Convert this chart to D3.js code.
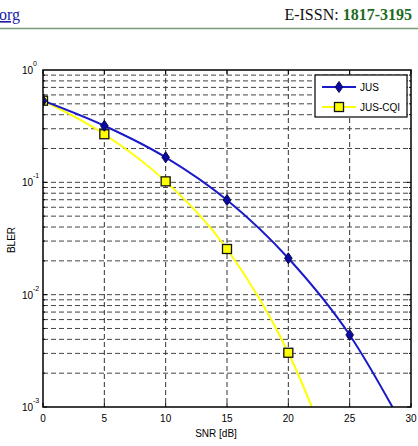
<html>
<head>
<script src="https://d3js.org/d3.v7.min.js"></script>
<style>
  body { margin: 0; background: #fff; }
  text { font-family: "Liberation Sans", Arial, sans-serif; }
</style>
</head>
<body>
<script>
// data
var snr = [0, 5, 10, 15, 20, 25, 30];
var jus = [0.533, 0.319, 0.167, 0.0696, 0.0211, 0.00438, 0.0005];
var snrCqi = [0, 5, 10, 15, 20, 25];
var jusCqi = [0.533, 0.268, 0.102, 0.0255, 0.00304, 0.00013];
var xTicks = [0, 5, 10, 15, 20, 25, 30];
var yDecades = [-3, -2, -1, 0];

var W = 418, H = 446;
var margin = {top: 70, left: 43},
    width = 368, height = 337;

var svg = d3.select("body").append("svg")
    .attr("width", W).attr("height", H);

// page header (journal strip)
svg.append("text").attr("x", -1).attr("y", 20)
    .style("font-family", "'Liberation Serif', serif").style("font-size", "16px")
    .style("fill", "#1a1aa6").style("text-decoration", "underline")
    .text("org");
var hdr = svg.append("text").attr("x", 412).attr("y", 20).attr("text-anchor", "end")
    .style("font-family", "'Liberation Serif', serif").style("font-size", "16px");
hdr.append("tspan").style("fill", "#111").text("E-ISSN: ");
hdr.append("tspan").style("fill", "#1e6b1e").style("font-weight", "bold").text("1817-3195");
svg.append("line").attr("x1", 0).attr("x2", 418).attr("y1", 28.5).attr("y2", 28.5)
    .attr("stroke", "#7a9a7a").attr("stroke-width", 1.5);

var g = svg.append("g").attr("transform", "translate(" + margin.left + "," + margin.top + ")");

var x = d3.scaleLinear().domain([0, 30]).range([0, width]);
var y = d3.scaleLog().domain([1e-3, 1]).range([height, 0]);

// grid: every 1..9 per decade, dashed
var yGrid = [];
yDecades.slice(0, 3).forEach(function (e) {
  for (var k = 1; k <= 9; k++) yGrid.push(k * Math.pow(10, e));
});
g.append("g").selectAll("line").data(yGrid.filter(function (v) { return v > 1e-3; }))
  .enter().append("line")
    .attr("x1", 0).attr("x2", width)
    .attr("y1", function (d) { return y(d); }).attr("y2", function (d) { return y(d); })
    .attr("stroke", "#444").attr("stroke-width", 1).attr("stroke-dasharray", "5,3");
g.append("g").selectAll("line").data(xTicks.slice(1, -1))
  .enter().append("line")
    .attr("x1", function (d) { return x(d); }).attr("x2", function (d) { return x(d); })
    .attr("y1", 0).attr("y2", height)
    .attr("stroke", "#333").attr("stroke-width", 1).attr("stroke-dasharray", "5,3");

// clip for lines
g.append("clipPath").attr("id", "clip").append("rect")
    .attr("width", width).attr("height", height);

var line = d3.line()
    .x(function (d) { return x(d[0]); })
    .y(function (d) { return y(d[1]); })
    .curve(d3.curveMonotoneX);

var jusData = d3.zip(snr, jus);
var cqiData = d3.zip(snrCqi, jusCqi);

var plot = g.append("g").attr("clip-path", "url(#clip)");
plot.append("path").datum(cqiData).attr("d", line)
    .attr("fill", "none").attr("stroke", "#ffff00").attr("stroke-width", 2);
plot.append("path").datum(jusData).attr("d", line)
    .attr("fill", "none").attr("stroke", "#1a1ac8").attr("stroke-width", 2);

var diamond = "M0,-5.5L3.8,0L0,5.5L-3.8,0Z";
function drawSquares(sel, data) {
  sel.selectAll(".sq").data(data).enter().append("rect")
      .attr("x", function (d) { return x(d[0]) - 4.5; })
      .attr("y", function (d) { return y(d[1]) - 4.5; })
      .attr("width", 9).attr("height", 9)
      .attr("fill", "#ffff00").attr("stroke", "#111").attr("stroke-width", 1.3);
}
function drawDiamonds(sel, data) {
  sel.selectAll(".dm").data(data).enter().append("path")
      .attr("d", diamond)
      .attr("transform", function (d) { return "translate(" + x(d[0]) + "," + y(d[1]) + ")"; })
      .attr("fill", "#0a0aa0").attr("stroke", "#0a0a50").attr("stroke-width", 1);
}
drawSquares(plot, cqiData.filter(function (d) { return d[1] >= 1e-3; }));
drawDiamonds(plot, jusData.filter(function (d) { return d[1] >= 1e-3; }));

// axes box and inward ticks
g.append("rect").attr("width", width).attr("height", height)
    .attr("fill", "none").attr("stroke", "#000").attr("stroke-width", 1.5);
xTicks.forEach(function (t) {
  g.append("line").attr("x1", x(t)).attr("x2", x(t)).attr("y1", height).attr("y2", height - 4).attr("stroke", "#000");
  g.append("line").attr("x1", x(t)).attr("x2", x(t)).attr("y1", 0).attr("y2", 4).attr("stroke", "#000");
  g.append("text").attr("x", x(t)).attr("y", height + 15).attr("text-anchor", "middle")
      .style("font-size", "10px").text(t);
});
yGrid.forEach(function (v) {
  var len = (Math.abs(Math.log10(v) - Math.round(Math.log10(v))) < 1e-9) ? 4 : 2;
  g.append("line").attr("x1", 0).attr("x2", len).attr("y1", y(v)).attr("y2", y(v)).attr("stroke", "#000");
  g.append("line").attr("x1", width).attr("x2", width - len).attr("y1", y(v)).attr("y2", y(v)).attr("stroke", "#000");
});
yDecades.forEach(function (e) {
  var yy = y(Math.pow(10, e));
  g.append("text").attr("x", -10).attr("y", yy + 4).attr("text-anchor", "end")
      .style("font-size", "10px").text("10");
  g.append("text").attr("x", -10).attr("y", yy - 4)
      .style("font-size", "7px").text(e === 0 ? "0" : String(e));
});

// axis labels
svg.append("text").attr("x", margin.left + width / 2 - 11).attr("y", 437)
    .attr("text-anchor", "middle").style("font-size", "10px").text("SNR [dB]");
svg.append("text").attr("transform", "translate(15,240) rotate(-90)")
    .attr("text-anchor", "middle").style("font-size", "10px").text("BLER");

// legend
var lg = svg.append("g").attr("transform", "translate(315,75)");
lg.append("rect").attr("width", 92).attr("height", 42)
    .attr("fill", "#fff").attr("stroke", "#000").attr("stroke-width", 1.2);
var legendItems = [
  {name: "JUS", color: "#1a1ac8", y: 12},
  {name: "JUS-CQI", color: "#ffff00", y: 32}
];
legendItems.forEach(function (it, i) {
  lg.append("line").attr("x1", 7).attr("x2", 41).attr("y1", it.y).attr("y2", it.y)
      .attr("stroke", it.color).attr("stroke-width", 2);
  if (i === 0) {
    lg.append("path").attr("d", diamond).attr("transform", "translate(24," + it.y + ")")
        .attr("fill", "#0a0aa0").attr("stroke", "#0a0a50");
  } else {
    lg.append("rect").attr("x", 19.5).attr("y", it.y - 4.5).attr("width", 9).attr("height", 9)
        .attr("fill", "#ffff00").attr("stroke", "#111").attr("stroke-width", 1.3);
  }
  lg.append("text").attr("x", 45).attr("y", it.y + 4).style("font-size", "10px").text(it.name);
});
</script>
</body>
</html>
